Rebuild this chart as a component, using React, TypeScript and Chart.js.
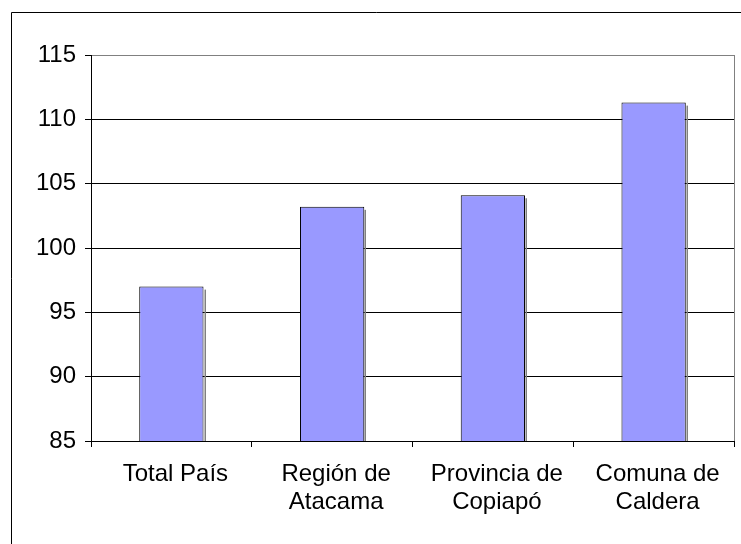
import React, { useEffect, useRef } from "react";
import { Chart, registerables } from "chart.js";

Chart.register(...registerables);

const categories: string[][] = [
  ["Total País"],
  ["Región de", "Atacama"],
  ["Provincia de", "Copiapó"],
  ["Comuna de", "Caldera"],
];
const values: number[] = [97.0, 103.2, 104.1, 111.3];
const yMin = 85;
const yMax = 115;
const yStep = 5;

const FONT_FAMILY = "'Liberation Sans', Arial, sans-serif";
const FONT_SIZE = 24;
const LINE_H = 28.5;

const framePlugin = {
  id: "frame",
  beforeDraw(chart: any) {
    const ctx = chart.ctx;
    ctx.save();
    ctx.fillStyle = "#ffffff";
    ctx.fillRect(0, 0, chart.width, chart.height);
    ctx.strokeStyle = "#000000";
    ctx.lineWidth = 1;
    ctx.beginPath();
    ctx.moveTo(11.5, chart.height + 2);
    ctx.lineTo(11.5, 12.5);
    ctx.lineTo(chart.width + 2, 12.5);
    ctx.stroke();
    ctx.restore();
  },
  beforeDatasetsDraw(chart: any) {
    const { ctx, chartArea } = chart;
    const meta = chart.getDatasetMeta(0);
    ctx.save();
    ctx.fillStyle = "#808080";
    meta.data.forEach((bar: any) => {
      const right = bar.x + bar.width / 2;
      const top = bar.y + 3;
      ctx.fillRect(Math.round(right) + 0.5, top, 1.5, chartArea.bottom - top);
    });
    ctx.restore();
  },
  afterDatasetsDraw(chart: any) {
    const { ctx, chartArea } = chart;
    ctx.save();
    ctx.strokeStyle = "#808080";
    ctx.lineWidth = 1;
    ctx.beginPath();
    const x = Math.round(chartArea.right) + 0.5;
    ctx.moveTo(x, chartArea.top);
    ctx.lineTo(x, chartArea.bottom);
    ctx.stroke();
    ctx.restore();
  },
  afterDraw(chart: any) {
    const { ctx, chartArea } = chart;
    const xs = chart.scales.x;
    ctx.save();
    ctx.fillStyle = "#000000";
    ctx.font = `${FONT_SIZE}px ${FONT_FAMILY}`;
    ctx.textAlign = "center";
    ctx.textBaseline = "middle";
    categories.forEach((lines, i) => {
      const x = xs.getPixelForTick(i) + 4;
      lines.forEach((line, j) => {
        const y = chartArea.bottom + 6 + 13 + LINE_H / 2 + j * LINE_H;
        ctx.fillText(line, x, y);
      });
    });
    ctx.restore();
  },
};

export default function App() {
  const ref = useRef<HTMLCanvasElement | null>(null);
  useEffect(() => {
    if (!ref.current) return;
    const font = { family: FONT_FAMILY, size: FONT_SIZE };
    const chart = new Chart(ref.current, {
      type: "bar",
      data: {
        labels: categories as any,
        datasets: [
          {
            data: values,
            backgroundColor: "#9999FF",
            borderColor: "#000000",
            borderWidth: 1,
            barPercentage: 0.4,
            categoryPercentage: 1,
          },
        ],
      },
      plugins: [framePlugin],
      options: {
        animation: false,
        responsive: true,
        maintainAspectRatio: false,
        layout: { padding: { left: 0, right: 7, top: 55, bottom: 0 } },
        plugins: {
          legend: { display: false },
          tooltip: { enabled: false },
        },
        scales: {
          x: {
            grid: {
              offset: true,
              drawOnChartArea: false,
              drawTicks: true,
              tickLength: 6,
              tickColor: "#000000",
            },
            border: { display: true, color: "#000000", width: 1 },
            ticks: {
              color: "rgba(0,0,0,0)",
              font: { ...font, lineHeight: LINE_H / FONT_SIZE },
              padding: 13,
              maxRotation: 0,
              autoSkip: false,
            },
            afterFit(scale: any) {
              scale.height = 103;
            },
          },
          y: {
            min: yMin,
            max: yMax,
            ticks: {
              stepSize: yStep,
              color: "#000000",
              font,
              padding: 9,
            },
            grid: {
              color: (c: any) => (c.tick && c.tick.value === yMax ? "#808080" : "#000000"),
              tickColor: "#000000",
              tickLength: 6,
              lineWidth: 1,
            },
            border: { display: true, color: "#000000", width: 1 },
            afterFit(scale: any) {
              scale.width = 91;
            },
          },
        },
      },
    });
    return () => chart.destroy();
  }, []);
  return (
    <div style={{ position: "fixed", left: 0, top: 0, width: 741, height: 544, background: "#fff" }}>
      <canvas ref={ref} />
    </div>
  );
}
